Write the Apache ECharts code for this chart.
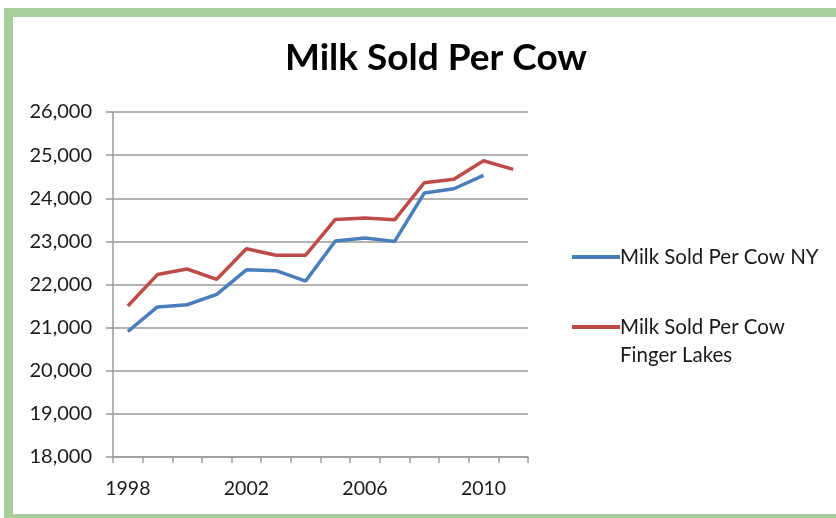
<!DOCTYPE html>
<html>
<head>
<meta charset="utf-8">
<script src="https://cdn.jsdelivr.net/npm/echarts@6/dist/echarts.min.js"></script>
<style>
  html, body { margin: 0; padding: 0; background: #fff; }
  #frame { position: absolute; left: 0; top: 0; width: 836px; height: 518px; overflow: hidden; }
  #border { position: absolute; left: 4px; top: 8px; width: 850px; height: 515px;
            box-sizing: border-box; border: 9px solid #a6cf9b; border-right: none; }
  #chart { position: absolute; left: 0; top: 0; width: 836px; height: 518px; }
</style>
</head>
<body>
<div id="frame">
  <div id="border"></div>
  <div id="chart"></div>
</div>
<script>
// Milk sold per cow (lbs), NY state vs. Finger Lakes region
const years = ['1998', '1999', '2000', '2001', '2002', '2003', '2004',
               '2005', '2006', '2007', '2008', '2009', '2010', '2011'];
const nyValues = [20910, 21480, 21530, 21770, 22340, 22320, 22080,
                  23010, 23080, 23000, 24120, 24220, 24530, null];
const fingerLakesValues = [21500, 22230, 22360, 22120, 22830, 22680, 22680,
                           23510, 23540, 23500, 24360, 24440, 24870, 24670];
const seriesNames = ['Milk Sold Per Cow NY', 'Milk Sold Per Cow Finger Lakes'];
const chartTitle = 'Milk Sold Per Cow';

const FONT = 'Lato, "Open Sans", sans-serif';
const chart = echarts.init(document.getElementById('chart'), null, { renderer: 'canvas' });

chart.setOption({
  backgroundColor: 'transparent',
  animation: false,
  title: {
    text: chartTitle,
    left: 431,
    textAlign: 'center',
    top: 35,
    textStyle: { fontFamily: FONT, fontWeight: 'bold', fontSize: 37, color: '#000' }
  },
  legend: {
    orient: 'vertical',
    left: 567,
    top: 238,
    itemWidth: 48,
    itemHeight: 4,
    itemGap: 14,
    icon: 'rect',
    data: seriesNames,
    // leading blank line keeps the swatch level with the first text line
    formatter: function (name) {
      return name === seriesNames[1] ? '\nMilk Sold Per Cow\nFinger Lakes' : name;
    },
    textStyle: { fontFamily: FONT, fontSize: 20.5, color: '#1a1a1a', lineHeight: 28, padding: [0, 0, 0, -5] }
  },
  grid: { left: 113, right: 308, top: 112, bottom: 61, containLabel: false },
  xAxis: {
    type: 'category',
    data: years,
    boundaryGap: true,
    axisLine: { lineStyle: { color: '#9a9a9a', width: 1.5 } },
    axisTick: { show: true, interval: 0, length: 6, lineStyle: { color: '#9a9a9a', width: 1.5 } },
    axisLabel: { interval: 3, margin: 22, fontFamily: FONT, fontSize: 19.5, color: '#1a1a1a' },
    splitLine: { show: false }
  },
  yAxis: {
    type: 'value',
    min: 18000,
    max: 26000,
    interval: 1000,
    axisLine: { show: true, lineStyle: { color: '#9a9a9a', width: 1.5 } },
    axisTick: { show: true, length: 7, lineStyle: { color: '#9a9a9a', width: 1.5 } },
    axisLabel: {
      margin: 21,
      fontFamily: FONT, fontSize: 20, color: '#1a1a1a',
      formatter: v => v.toLocaleString('en-US')
    },
    splitLine: { show: true, lineStyle: { color: '#9a9a9a', width: 1.5 } }
  },
  series: [
    {
      name: seriesNames[0],
      type: 'line',
      data: nyValues,
      showSymbol: false,
      symbol: 'none',
      lineStyle: { color: '#4a7ebb', width: 3.5 },
      itemStyle: { color: '#4a7ebb' }
    },
    {
      name: seriesNames[1],
      type: 'line',
      data: fingerLakesValues,
      showSymbol: false,
      symbol: 'none',
      lineStyle: { color: '#be4b48', width: 3.5 },
      itemStyle: { color: '#be4b48' }
    }
  ]
});
</script>
</body>
</html>
